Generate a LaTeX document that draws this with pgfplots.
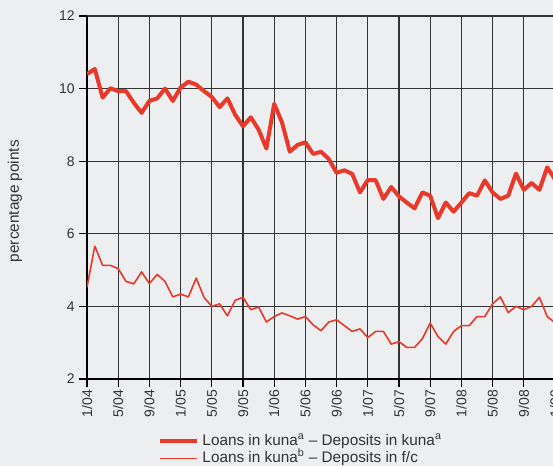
\documentclass[border=0pt]{standalone}
\usepackage{fontspec}
\setmainfont{Liberation Sans}
\usepackage{pgfplots}
\pgfplotsset{compat=1.18}
\usepackage{pgfplotstable}
\definecolor{bg}{RGB}{236,238,240}
\definecolor{lred}{HTML}{E8392B}
\definecolor{txt}{HTML}{333333}

\pgfplotstableread{
m kk kf
0 10.40 4.53
1 10.54 5.66
2 9.75 5.13
3 10.01 5.13
4 9.93 5.04
5 9.93 4.69
6 9.61 4.62
7 9.33 4.95
8 9.66 4.63
9 9.73 4.88
10 10.00 4.69
11 9.66 4.26
12 10.03 4.34
13 10.19 4.26
14 10.11 4.78
15 9.93 4.25
16 9.77 4.00
17 9.49 4.07
18 9.73 3.74
19 9.28 4.17
20 8.96 4.25
21 9.21 3.91
22 8.87 3.98
23 8.35 3.57
24 9.58 3.72
25 9.07 3.82
26 8.26 3.74
27 8.45 3.65
28 8.52 3.72
29 8.20 3.49
30 8.26 3.33
31 8.06 3.57
32 7.68 3.63
33 7.75 3.47
34 7.65 3.31
35 7.14 3.38
36 7.48 3.14
37 7.48 3.31
38 6.96 3.31
39 7.29 2.96
40 7.03 3.03
41 6.86 2.87
42 6.70 2.87
43 7.14 3.11
44 7.05 3.54
45 6.43 3.17
46 6.86 2.96
47 6.61 3.31
48 6.86 3.47
49 7.12 3.47
50 7.05 3.72
51 7.47 3.72
52 7.14 4.07
53 6.96 4.26
54 7.05 3.83
55 7.66 4.00
56 7.21 3.91
57 7.40 4.00
58 7.21 4.25
59 7.83 3.72
60 7.50 3.55
}\datatable

\begin{document}
\begin{tikzpicture}
\fill[bg] (-65.25pt,-65.25pt) rectangle (349.5pt,284.25pt);
\begin{axis}[
  scale only axis,
  width=351pt, height=272.25pt,
  xmin=0, xmax=60, ymin=2, ymax=12,
  axis x line*=bottom, axis y line*=left,
  axis line style={line width=1.5pt, black},
  xtick={0,4,...,60},
  xticklabels={1/04,5/04,9/04,1/05,5/05,9/05,1/06,5/06,9/06,1/07,5/07,9/07,1/08,5/08,9/08,1/09},
  ytick={2,4,...,12},
  tick align=outside,
  major tick length=6pt,
  tick style={black, line width=0.8pt},
  grid=major,
  major grid style={black!80, line width=0.8pt},
  /pgf/number format/assume math mode=true,
  ticklabel style={font=\fontsize{10.5}{12}\selectfont, text=txt},
  xticklabel style={rotate=90, anchor=east, inner sep=2pt},
  yticklabel style={inner sep=3pt},
  ylabel={percentage points},
  ylabel style={at={(axis description cs:-0.154,0.49)}, anchor=center, rotate=0, font=\fontsize{11.5}{13.5}\selectfont, text=txt},
  legend style={at={(axis description cs:0.1517,-0.149)}, anchor=north west,
    draw=none, fill=none, inner sep=0pt, row sep=1pt,
    font=\fontsize{11.5}{13.5}\selectfont, text=txt,
    nodes={inner sep=0.5pt, text height=8.5pt, text depth=2.5pt}},
  legend cell align=left,
  legend image code/.code={\draw[#1] (0pt,0pt) -- (27.75pt,0pt);},
]
\addplot[lred, line width=3pt, line join=round] table[x=m, y=kk] {\datatable};
\addlegendentry{\,Loans in kuna\textsuperscript{a} -- Deposits in kuna\textsuperscript{a}}
\addplot[lred, line width=1.2pt, line join=round] table[x=m, y=kf] {\datatable};
\addlegendentry{\,Loans in kuna\textsuperscript{b} -- Deposits in f/c}
\end{axis}
\pgfresetboundingbox
\path[use as bounding box] (-65.25pt,-65.25pt) rectangle (349.5pt,284.25pt);
\end{tikzpicture}
\end{document}
